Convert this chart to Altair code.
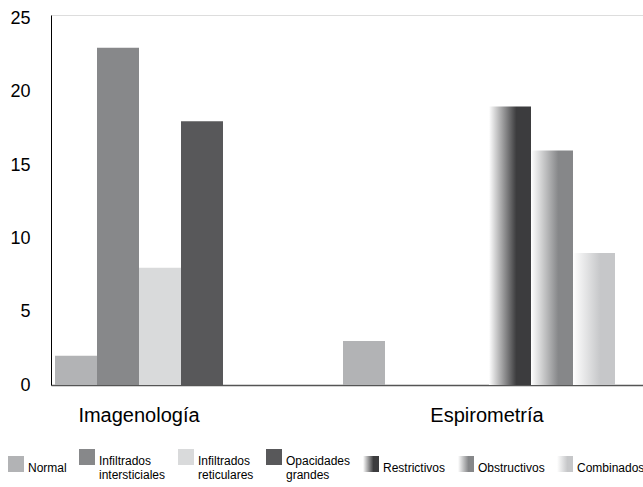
import altair as alt
import pandas as pd

# Categories, series and counts
categorias = ["Imagenología", "Espirometría"]
series = [
    "Normal",
    "Infiltrados intersticiales",
    "Infiltrados reticulares",
    "Opacidades grandes",
    "Restrictivos",
    "Obstructivos",
    "Combinados",
]
imagenologia = [2, 23, 8, 18, 0, 0, 0]
espirometria = [3, 0, 0, 0, 19, 16, 9]

series_solidas = series[:4]
series_degradado = series[4:]

colores_solidos = ["#b2b3b5", "#87888a", "#d9dadb", "#58585a"]
tonos_degradado = ["#3c3c3e", "#868789", "#c6c7c9"]


def degradado(tono):
    # horizontal white-to-tone fill used by the spirometry series
    return {
        "expr": (
            "{gradient: 'linear', x1: 0, y1: 0, x2: 1, y2: 0, stops: ["
            "{offset: 0, color: '#ffffff'}, "
            f"{{offset: 0.65, color: '{tono}'}}, "
            f"{{offset: 1, color: '{tono}'}}]}}"
        )
    }


rango_color = colores_solidos + [degradado(t) for t in tonos_degradado]

filas = []
for cat, valores in zip(categorias, [imagenologia, espirometria]):
    for s, v in zip(series, valores):
        filas.append({"categoria": cat, "serie": s, "valor": v})
df = pd.DataFrame(filas)

FUENTE = "Liberation Sans"

x_enc = alt.X(
    "categoria:N",
    sort=categorias,
    scale=alt.Scale(paddingInner=0, paddingOuter=0.02778, align=0.25),
    axis=alt.Axis(
        title=None,
        ticks=False,
        labelAngle=0,
        labelFont=FUENTE,
        labelFontSize=20,
        labelColor="black",
        labelPadding=20,
        labelOffset={"condition": {"test": "datum.value === 'Imagenología'", "value": -60}, "value": 0},
        domainColor="#555555",
        domainWidth=1.5,
    ),
)
y_enc = alt.Y(
    "valor:Q",
    scale=alt.Scale(domain=[0, 25.24], nice=False),
    axis=alt.Axis(
        title=None,
        values=[0, 5, 10, 15, 20, 25],
        ticks=False,
        grid=False,
        labelFont=FUENTE,
        labelFontSize=18,
        labelColor="black",
        labelPadding=21,
        domainColor="black",
        domainWidth=1,
    ),
)
color_enc = alt.Color(
    "serie:N",
    scale=alt.Scale(domain=series, range=rango_color),
    legend=alt.Legend(
        title=None,
        orient="none",
        direction="horizontal",
        legendX=-43,
        legendY=442,
        padding=0,
        # square swatch sitting on the first label line's baseline
        symbolType="M-1,-2H1V0H-1Z",
        symbolSize=256,
        symbolStrokeWidth=0,
        labelFont=FUENTE,
        labelFontSize=12,
        labelColor="black",
        labelOffset=4,
        labelLimit=0,
        labelBaseline="alphabetic",
        columnPadding=12,
        labelExpr="split(datum.label, ' ')",
    ),
)

barras_solidas = (
    alt.Chart(df)
    .transform_filter(alt.FieldOneOfPredicate(field="serie", oneOf=series_solidas))
    .mark_bar()
    .encode(
        x=x_enc,
        y=y_enc,
        color=color_enc,
        xOffset=alt.XOffset(
            "serie:N",
            scale=alt.Scale(domain=series_solidas, paddingInner=0, paddingOuter=0, range=[0, 168]),
        ),
    )
)

barras_degradado = (
    alt.Chart(df)
    .transform_filter(alt.FieldOneOfPredicate(field="serie", oneOf=series_degradado))
    .mark_bar()
    .encode(
        x=x_enc,
        y=y_enc,
        color=color_enc,
        xOffset=alt.XOffset(
            "serie:N",
            scale=alt.Scale(domain=series_degradado, paddingInner=0, paddingOuter=0, range=[146, 272]),
        ),
    )
)

chart = (
    alt.layer(barras_solidas, barras_degradado)
    .resolve_scale(xOffset="independent")
    .properties(
        width=592,
        height=370,
        autosize=alt.AutoSizeParams(type="none"),
        padding={"left": 51, "top": 15, "right": 0, "bottom": 102},
    )
    .configure_view(stroke=None)
    .configure(background="white")
)

chart.save("out.html", embed_options={"renderer": "svg", "actions": False})
